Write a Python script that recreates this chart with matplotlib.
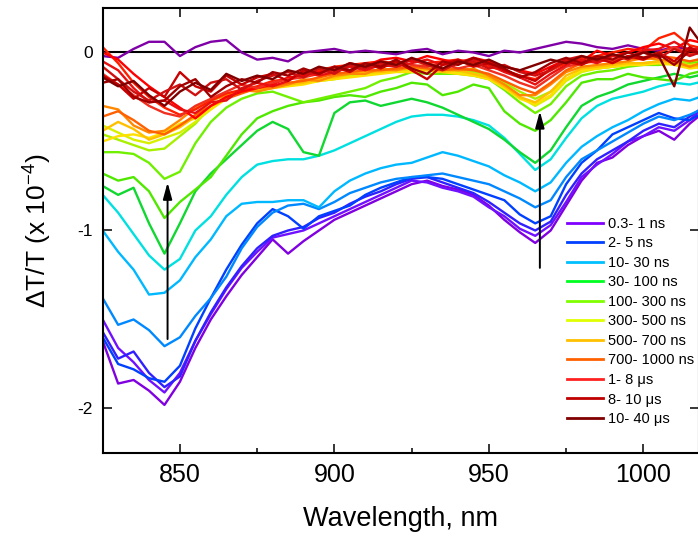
import matplotlib
matplotlib.use('Agg')
import matplotlib.pyplot as plt
from matplotlib.lines import Line2D

plt.rcParams['font.family'] = ['Liberation Sans', 'DejaVu Sans']
plt.rcParams['mathtext.fontset'] = 'custom'
plt.rcParams['mathtext.rm'] = 'Liberation Sans'
plt.rcParams['mathtext.default'] = 'regular'

# wavelength grid (nm)
wavelength = [825, 830, 835, 840, 845, 850, 855, 860, 865, 870,
              875, 880, 885, 890, 895, 900, 905, 910, 915, 920,
              925, 930, 935, 940, 945, 950, 955, 960, 965, 970,
              975, 980, 985, 990, 995, 1000, 1005, 1010, 1015, 1020]

# dT/T (x 1e-4), earliest delay first
p0 = [-0.02, -0.03, 0.02, 0.06, 0.06, -0.02, 0.03, 0.06, 0.07, 0.00,
      -0.04, -0.03, -0.05, 0.00, 0.01, 0.02, 0.00, 0.01, 0.00, -0.01,
      0.01, 0.02, -0.01, 0.01, 0.00, -0.02, 0.01, 0.00, 0.02, 0.04,
      0.06, 0.05, 0.03, 0.02, 0.04, 0.02, 0.01, 0.03, 0.02, 0.02]
p1 = [-1.62, -1.86, -1.84, -1.90, -1.98, -1.85, -1.66, -1.50, -1.37, -1.25,
      -1.15, -1.05, -1.13, -1.06, -1.00, -0.94, -0.90, -0.86, -0.82, -0.78,
      -0.74, -0.72, -0.75, -0.77, -0.80, -0.86, -0.94, -1.01, -1.07, -1.00,
      -0.86, -0.72, -0.62, -0.59, -0.52, -0.47, -0.44, -0.49, -0.40, -0.33]
p2 = [-1.50, -1.66, -1.74, -1.84, -1.91, -1.80, -1.62, -1.47, -1.33, -1.21,
      -1.12, -1.04, -1.02, -1.00, -0.96, -0.92, -0.88, -0.84, -0.80, -0.76,
      -0.72, -0.73, -0.76, -0.78, -0.81, -0.87, -0.92, -0.99, -1.03, -0.97,
      -0.84, -0.70, -0.63, -0.57, -0.50, -0.47, -0.42, -0.44, -0.38, -0.30]
b1 = [-1.57, -1.72, -1.68, -1.80, -1.88, -1.82, -1.62, -1.46, -1.32, -1.20,
      -1.10, -1.03, -1.00, -0.98, -0.93, -0.90, -0.85, -0.81, -0.78, -0.74,
      -0.71, -0.70, -0.73, -0.76, -0.79, -0.84, -0.90, -0.96, -1.00, -0.95,
      -0.80, -0.68, -0.60, -0.55, -0.50, -0.44, -0.40, -0.42, -0.36, -0.30]
b2 = [-1.60, -1.75, -1.78, -1.83, -1.85, -1.76, -1.55, -1.38, -1.22, -1.08,
      -0.96, -0.88, -0.92, -0.99, -0.92, -0.89, -0.86, -0.80, -0.76, -0.73,
      -0.70, -0.70, -0.71, -0.74, -0.77, -0.80, -0.83, -0.91, -0.96, -0.92,
      -0.74, -0.62, -0.55, -0.46, -0.42, -0.38, -0.34, -0.37, -0.38, -0.33]
b3 = [-1.38, -1.53, -1.50, -1.56, -1.65, -1.60, -1.48, -1.38, -1.26, -1.10,
      -0.98, -0.90, -0.86, -0.85, -0.88, -0.84, -0.79, -0.76, -0.73, -0.71,
      -0.70, -0.69, -0.68, -0.70, -0.72, -0.74, -0.78, -0.82, -0.87, -0.83,
      -0.70, -0.60, -0.55, -0.50, -0.45, -0.40, -0.36, -0.38, -0.35, -0.31]
c1 = [-1.00, -1.12, -1.22, -1.36, -1.35, -1.28, -1.15, -1.05, -0.92, -0.85,
      -0.84, -0.84, -0.83, -0.83, -0.87, -0.78, -0.72, -0.68, -0.65, -0.63,
      -0.62, -0.59, -0.56, -0.58, -0.61, -0.64, -0.69, -0.73, -0.78, -0.73,
      -0.62, -0.53, -0.47, -0.42, -0.38, -0.33, -0.29, -0.26, -0.27, -0.24]
c2 = [-0.80, -0.90, -1.02, -1.14, -1.22, -1.16, -1.00, -0.92, -0.80, -0.70,
      -0.63, -0.61, -0.60, -0.60, -0.58, -0.55, -0.51, -0.47, -0.43, -0.39,
      -0.36, -0.35, -0.35, -0.36, -0.38, -0.41, -0.48, -0.57, -0.66, -0.60,
      -0.48, -0.37, -0.30, -0.26, -0.24, -0.22, -0.19, -0.17, -0.18, -0.16]
g1 = [-0.75, -0.80, -0.76, -0.96, -1.13, -0.96, -0.78, -0.68, -0.60, -0.52,
      -0.44, -0.39, -0.43, -0.56, -0.58, -0.34, -0.28, -0.27, -0.30, -0.28,
      -0.26, -0.28, -0.31, -0.35, -0.39, -0.43, -0.49, -0.56, -0.62, -0.55,
      -0.42, -0.30, -0.25, -0.22, -0.18, -0.16, -0.14, -0.12, -0.14, -0.12]
g2 = [-0.68, -0.72, -0.70, -0.78, -0.93, -0.84, -0.77, -0.70, -0.58, -0.46,
      -0.37, -0.33, -0.30, -0.28, -0.27, -0.25, -0.24, -0.25, -0.22, -0.20,
      -0.17, -0.18, -0.24, -0.22, -0.18, -0.20, -0.33, -0.40, -0.44, -0.38,
      -0.28, -0.17, -0.15, -0.15, -0.12, -0.14, -0.15, -0.16, -0.12, -0.10]
l1 = [-0.56, -0.56, -0.57, -0.62, -0.71, -0.67, -0.51, -0.39, -0.31, -0.26,
      -0.23, -0.22, -0.25, -0.28, -0.26, -0.24, -0.22, -0.20, -0.16, -0.14,
      -0.11, -0.12, -0.12, -0.12, -0.13, -0.15, -0.21, -0.28, -0.34, -0.29,
      -0.19, -0.13, -0.11, -0.10, -0.08, -0.07, -0.07, -0.06, -0.06, -0.05]
l2 = [-0.46, -0.49, -0.52, -0.55, -0.54, -0.47, -0.40, -0.30, -0.25, -0.22,
      -0.20, -0.19, -0.18, -0.17, -0.16, -0.15, -0.13, -0.12, -0.11, -0.10,
      -0.10, -0.09, -0.10, -0.10, -0.11, -0.13, -0.17, -0.22, -0.26, -0.22,
      -0.15, -0.10, -0.09, -0.08, -0.07, -0.06, -0.05, -0.06, -0.05, -0.04]
y1 = [-0.41, -0.45, -0.49, -0.51, -0.48, -0.45, -0.39, -0.32, -0.25, -0.22,
      -0.20, -0.19, -0.18, -0.17, -0.16, -0.14, -0.13, -0.12, -0.11, -0.10,
      -0.10, -0.09, -0.10, -0.11, -0.12, -0.14, -0.19, -0.25, -0.30, -0.25,
      -0.16, -0.11, -0.09, -0.08, -0.07, -0.06, -0.06, -0.06, -0.07, -0.06]
y2 = [-0.50, -0.47, -0.46, -0.48, -0.45, -0.40, -0.37, -0.32, -0.26, -0.22,
      -0.21, -0.20, -0.19, -0.18, -0.16, -0.15, -0.14, -0.13, -0.12, -0.11,
      -0.11, -0.10, -0.11, -0.12, -0.13, -0.15, -0.20, -0.26, -0.29, -0.24,
      -0.15, -0.10, -0.09, -0.08, -0.07, -0.07, -0.06, -0.07, -0.09, -0.08]
o1 = [-0.44, -0.39, -0.43, -0.49, -0.46, -0.42, -0.36, -0.27, -0.24, -0.22,
      -0.21, -0.19, -0.18, -0.17, -0.15, -0.14, -0.12, -0.11, -0.11, -0.10,
      -0.09, -0.10, -0.11, -0.10, -0.12, -0.14, -0.19, -0.25, -0.28, -0.22,
      -0.13, -0.09, -0.08, -0.07, -0.06, -0.06, -0.05, -0.06, -0.08, -0.07]
o2 = [-0.30, -0.32, -0.41, -0.45, -0.44, -0.38, -0.31, -0.27, -0.24, -0.21,
      -0.22, -0.20, -0.18, -0.15, -0.16, -0.13, -0.12, -0.12, -0.09, -0.10,
      -0.08, -0.07, -0.09, -0.10, -0.09, -0.13, -0.18, -0.24, -0.24, -0.18,
      -0.11, -0.08, -0.07, -0.06, -0.05, -0.03, -0.04, -0.05, -0.08, -0.05]
o3 = [-0.36, -0.33, -0.38, -0.44, -0.46, -0.41, -0.35, -0.30, -0.26, -0.23,
      -0.20, -0.19, -0.17, -0.16, -0.14, -0.12, -0.11, -0.10, -0.10, -0.09,
      -0.08, -0.09, -0.10, -0.09, -0.10, -0.12, -0.16, -0.20, -0.23, -0.17,
      -0.10, -0.06, -0.05, -0.04, -0.03, -0.04, -0.02, -0.03, -0.05, -0.03]
r1 = [0.03, -0.06, -0.17, -0.25, -0.31, -0.35, -0.32, -0.27, -0.23, -0.21,
      -0.19, -0.16, -0.15, -0.12, -0.10, -0.08, -0.07, -0.06, -0.05, -0.06,
      -0.04, -0.06, -0.05, -0.04, -0.06, -0.08, -0.10, -0.13, -0.15, -0.10,
      -0.06, -0.03, -0.02, 0.00, 0.02, 0.01, 0.08, 0.11, 0.04, 0.02]
r2 = [0.00, -0.04, -0.12, -0.19, -0.25, -0.31, -0.37, -0.30, -0.25, -0.22,
      -0.20, -0.18, -0.14, -0.13, -0.11, -0.10, -0.06, -0.08, -0.04, -0.03,
      -0.05, -0.02, -0.04, -0.06, -0.03, -0.05, -0.08, -0.10, -0.12, -0.08,
      -0.04, -0.05, 0.01, -0.02, 0.00, 0.03, 0.05, 0.02, 0.07, 0.05]
r3 = [-0.12, -0.18, -0.24, -0.30, -0.34, -0.36, -0.30, -0.26, -0.22, -0.18,
      -0.20, -0.17, -0.15, -0.14, -0.12, -0.09, -0.10, -0.07, -0.08, -0.05,
      -0.07, -0.08, -0.06, -0.09, -0.07, -0.10, -0.13, -0.17, -0.20, -0.14,
      -0.08, -0.06, -0.04, -0.05, -0.02, -0.03, 0.00, 0.03, -0.01, 0.00]
r4 = [-0.05, -0.10, -0.20, -0.28, -0.27, -0.32, -0.34, -0.28, -0.27, -0.20,
      -0.17, -0.19, -0.16, -0.11, -0.13, -0.11, -0.08, -0.10, -0.07, -0.08,
      -0.06, -0.04, -0.07, -0.05, -0.04, -0.07, -0.11, -0.14, -0.18, -0.12,
      -0.07, -0.04, -0.06, -0.02, -0.03, 0.01, 0.02, 0.06, 0.01, 0.03]
d1 = [-0.13, -0.18, -0.26, -0.20, -0.25, -0.11, -0.19, -0.22, -0.13, -0.18,
      -0.14, -0.12, -0.16, -0.10, -0.12, -0.08, -0.11, -0.06, -0.09, -0.05,
      -0.10, -0.15, -0.07, -0.04, -0.08, -0.06, -0.10, -0.13, -0.16, -0.09,
      -0.05, -0.07, -0.03, -0.06, -0.02, -0.04, 0.00, -0.05, 0.03, -0.02]
d2 = [-0.08, -0.15, -0.22, -0.27, -0.22, -0.18, -0.24, -0.17, -0.15, -0.21,
      -0.16, -0.13, -0.11, -0.14, -0.09, -0.12, -0.07, -0.09, -0.06, -0.08,
      -0.04, -0.07, -0.10, -0.06, -0.05, -0.09, -0.07, -0.11, -0.13, -0.10,
      -0.04, -0.02, -0.05, -0.01, -0.04, 0.00, -0.03, 0.02, -0.02, 0.01]
m1 = [-0.17, -0.15, -0.25, -0.28, -0.27, -0.19, -0.15, -0.25, -0.19, -0.15,
      -0.17, -0.11, -0.13, -0.09, -0.12, -0.08, -0.10, -0.06, -0.08, -0.04,
      -0.09, -0.12, -0.05, -0.07, -0.03, -0.06, -0.09, -0.14, -0.11, -0.06,
      -0.03, -0.06, -0.02, -0.04, 0.00, -0.03, -0.01, -0.07, 0.01, -0.01]
m2 = [-0.14, -0.19, -0.16, -0.24, -0.30, -0.22, -0.17, -0.21, -0.12, -0.16,
      -0.13, -0.15, -0.10, -0.12, -0.08, -0.10, -0.06, -0.08, -0.05, -0.07,
      -0.03, -0.06, -0.09, -0.05, -0.07, -0.04, -0.08, -0.10, -0.07, -0.04,
      -0.06, -0.02, -0.04, -0.01, -0.03, 0.00, -0.02, -0.19, 0.14, 0.02]

spectra = [p0, p1, p2, b1, b2, b3, c1, c2, g1, g2, l1, l2,
           y1, y2, o1, o2, o3, r1, r2, r3, r4, d1, d2, m1, m2]
colors = ['#8000a8', '#8000e0', '#7010ff', '#3020ff', '#0040ff', '#0088ff',
          '#00b8ff', '#00e0e0', '#10d830', '#50e800', '#70f000', '#a8f000',
          '#d8f000', '#ffe000', '#ffc000', '#ff8800', '#ff6000', '#ff2000',
          '#ff0000', '#f03020', '#e81010', '#c80000', '#d01010', '#a00000',
          '#800000']

legend_labels = ['0.3- 1 ns', '2- 5 ns', '10- 30 ns', '30- 100 ns',
                 '100- 300 ns', '300- 500 ns', '500- 700 ns', '700- 1000 ns',
                 '1- 8 μs', '8- 10 μs', '10- 40 μs']
legend_colors = ['#8000ff', '#0040ff', '#00c0ff', '#00ff20', '#80ff00',
                 '#e0ff00', '#ffc000', '#ff6000', '#ff2020', '#c00000',
                 '#800000']

fig = plt.figure(figsize=(6.98, 5.39), dpi=100)
ax = fig.add_axes([0.1471, 0.1596, 0.8543, 0.8256])

ax.axhline(0, color='black', lw=1.5, zorder=1)

for values, c in zip(spectra, colors):
    ax.plot(wavelength, values, color=c, lw=1.7, zorder=2)

# arrows showing the decay of the two bleach bands
arrow = dict(arrowstyle='-|>,head_length=0.55,head_width=0.15', color='black',
             lw=1.4, mutation_scale=18, shrinkA=0, shrinkB=0)
ax.annotate('', xy=(846, -0.73), xytext=(846, -1.61), arrowprops=arrow, zorder=5)
ax.annotate('', xy=(966.5, -0.33), xytext=(966.5, -1.21), arrowprops=arrow, zorder=5)

ax.set_xlim(825, 1018)
ax.set_ylim(-2.25, 0.25)
ax.set_xticks([850, 900, 950, 1000])
ax.set_xticks([875, 925, 975], minor=True)
ax.set_yticks([-2, -1, 0])
ax.set_yticklabels(['-2', '-1', '0'])

ax.tick_params(which='both', direction='in', top=True, right=True, width=1.1)
ax.tick_params(which='major', length=6.5)
ax.tick_params(which='minor', length=3.6)
ax.tick_params(axis='x', labelsize=18, pad=7)
ax.tick_params(axis='y', labelsize=12.5, pad=7)
for s in ax.spines.values():
    s.set_linewidth(1.5)

ax.set_xlabel('Wavelength, nm', fontsize=19.5, labelpad=14)
ax.set_ylabel('ΔT/T (x 10$^{-4}$)', fontsize=19, labelpad=17)

handles = [Line2D([], [], color=c, lw=2) for c in legend_colors]
ax.legend(handles, legend_labels, loc='upper left',
          bbox_to_anchor=(0.812, 0.598), bbox_transform=fig.transFigure,
          frameon=False, fontsize=10.5, handlelength=2.5, handletextpad=0.3,
          labelspacing=0.38, borderpad=0, borderaxespad=0)

plt.savefig('out.png', dpi=100)
